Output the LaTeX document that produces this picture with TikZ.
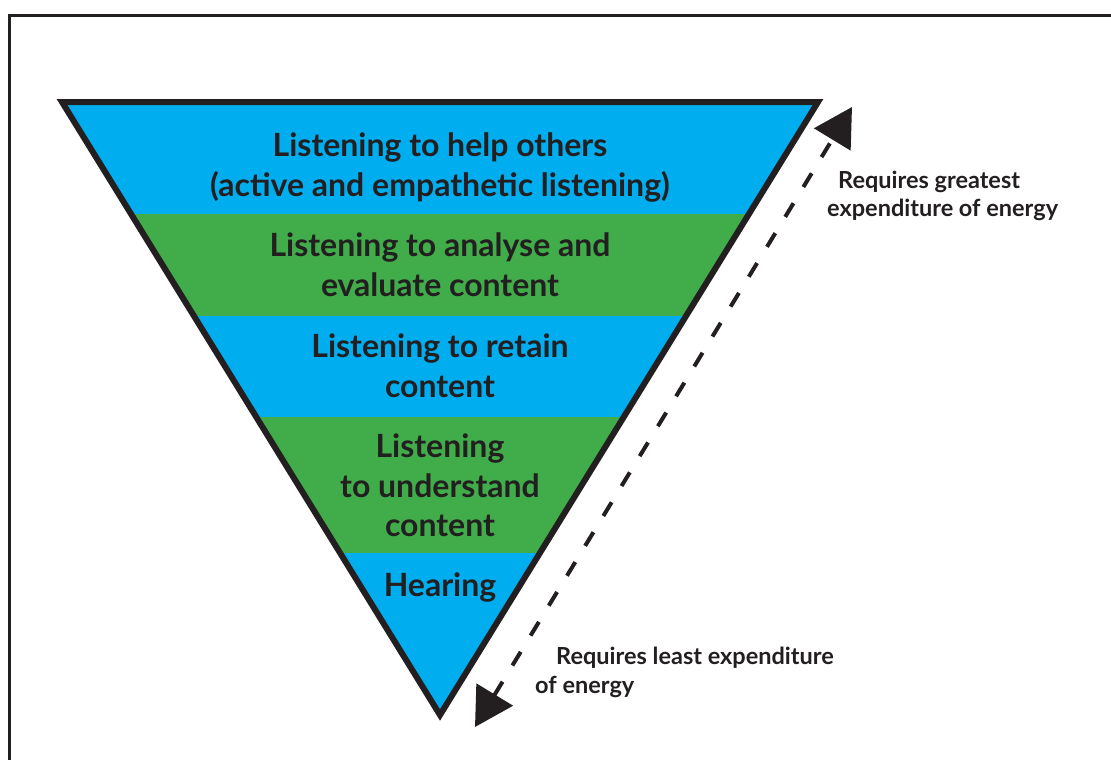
\documentclass[tikz,border=0pt]{standalone}
\usepackage{fontspec}
\setmainfont{Lato}
\usetikzlibrary{arrows.meta}
\definecolor{ink}{HTML}{231F20}
\definecolor{bandblue}{HTML}{00AEEF}
\definecolor{bandgreen}{HTML}{40AD4A}
\begin{document}
\begin{tikzpicture}[x=1pt,y=-1pt,
  % anchor=base sits on the last line of a multi-line label
  bandtext/.style={font=\bfseries\fontsize{32}{39.5}\selectfont, text=ink, align=center, anchor=base, inner sep=0pt},
  notetext/.style={font=\bfseries\fontsize{23.5}{27}\selectfont, text=ink, anchor=base west, inner sep=0pt},
  energy/.style={ink, line width=4pt, dash pattern=on 16pt off 19pt,
    {Triangle[length=38pt,width=42pt]}-{Triangle[length=38pt,width=42pt]}}
]
\useasboundingbox (0,0) rectangle (1111,760);
% outer frame, running off the page to the right and below
\begin{scope}
  \clip (0,0) rectangle (1111,760);
  \draw[ink, line width=3pt] (9.5,15.5) rectangle (1140,790);
\end{scope}
% corners of the inverted pyramid
\coordinate (tl) at (62,102);
\coordinate (tr) at (818,102);
\coordinate (apex) at (440,715);
% coloured levels
\begin{scope}
  \clip (tl) -- (tr) -- (apex) -- cycle;
  \fill[bandblue]  (0,0)   rectangle (1111,214);
  \fill[bandgreen] (0,214) rectangle (1111,316);
  \fill[bandblue]  (0,316) rectangle (1111,417);
  \fill[bandgreen] (0,417) rectangle (1111,553);
  \fill[bandblue]  (0,553) rectangle (1111,760);
\end{scope}
\draw[ink, line width=6pt, line join=miter] (tl) -- (tr) -- (apex) -- cycle;
% level labels
\node[bandtext] (help) at (440,196) {Listening to help others\\(active and empathetic listening)};
\node[bandtext] (analyse) at (440,296) {Listening to analyse and\\evaluate content};
\node[bandtext] (retain) at (440,397) {Listening to retain\\content};
\node[bandtext] (understand) at (440,536.5) {Listening\\to understand\\content};
\node[bandtext] (hearing) at (440,596) {Hearing};
% energy scale
\coordinate (lo) at (475,727);
\coordinate (hi) at (852,107);
\draw[energy] (lo) -- (hi);
\node[notetext] (great1) at (838,188) {Requires greatest};
\node[notetext] (great2) at (827,216.5) {expenditure of energy};
\node[notetext] (least1) at (556,664) {Requires least expenditure};
\node[notetext] (least2) at (535,693) {of energy};
\end{tikzpicture}
\end{document}
